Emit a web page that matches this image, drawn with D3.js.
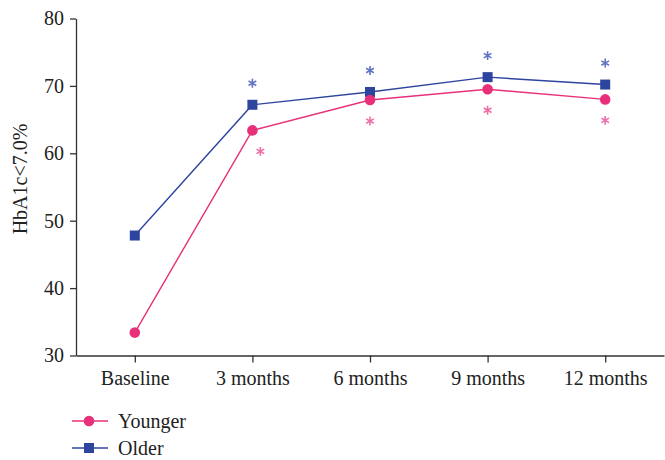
<!DOCTYPE html>
<html>
<head>
<meta charset="utf-8">
<script src="https://cdn.jsdelivr.net/npm/d3@7"></script>
<style>
  body { margin: 0; background: #fff; }
  text { font-family: "Liberation Serif", serif; fill: #222; }
</style>
</head>
<body>
<svg id="canvas"></svg>
<script>
let categories = ["Baseline", "3 months", "6 months", "9 months", "12 months"]
let younger = [33.4, 63.4, 67.9, 69.5, 68.0]
let older = [47.8, 67.2, 69.1, 71.3, 70.2]
let youngerSig = [false, true, true, true, true]
let olderSig = [false, true, true, true, true]
let yTicks = [30, 40, 50, 60, 70, 80]

let width = 665
let height = 460
let plotLeft = 76, plotRight = 664, plotTop = 18.5, plotBottom = 355.5

let pink = "#e8307a"
let blue = "#2e45a0"
let pinkStar = "#ee6fa6"
let blueStar = "#6275c4"

let svg = d3.select("#canvas")
svg.attr("width", width)
svg.attr("height", height)

let xScale = d3.scalePoint()
    .domain(categories)
    .range([plotLeft, plotRight])
    .padding(0.5)

let yScale = d3.scaleLinear()
    .domain([30, 80])
    .range([plotBottom, plotTop])

// axes
let xAxis = d3.axisBottom(xScale).tickSize(7).tickPadding(8).tickSizeOuter(0)
svg.append("g")
    .attr("transform", "translate(0," + plotBottom + ")")
    .call(xAxis)

let yAxis = d3.axisLeft(yScale).tickValues(yTicks).tickSize(6).tickPadding(6).tickSizeOuter(0)
svg.append("g")
    .attr("transform", "translate(" + plotLeft + ",0)")
    .call(yAxis)

svg.selectAll(".domain, .tick line").attr("stroke", "#333").attr("stroke-width", 1.3)
svg.selectAll(".tick text").attr("font-size", 20).attr("font-family", "Liberation Serif").attr("fill", "#222")

svg.append("text")
    .attr("transform", "translate(27,179) rotate(-90)")
    .attr("text-anchor", "middle")
    .attr("font-size", 20)
    .text("HbA1c<7.0%")

let line = d3.line()
    .x((d, i) => xScale(categories[i]))
    .y(d => yScale(d))

svg.append("path")
    .datum(older)
    .attr("fill", "none")
    .attr("stroke", blue)
    .attr("stroke-width", 1.4)
    .attr("d", line)

svg.append("path")
    .datum(younger)
    .attr("fill", "none")
    .attr("stroke", pink)
    .attr("stroke-width", 1.4)
    .attr("d", line)

svg.selectAll(".sq")
    .data(older)
    .enter()
    .append("rect")
    .attr("x", (d, i) => xScale(categories[i]) - 5)
    .attr("y", d => yScale(d) - 5)
    .attr("width", 10)
    .attr("height", 10)
    .attr("fill", blue)

svg.selectAll(".dot")
    .data(younger)
    .enter()
    .append("circle")
    .attr("cx", (d, i) => xScale(categories[i]))
    .attr("cy", d => yScale(d))
    .attr("r", 5.3)
    .attr("fill", pink)

// significance asterisks
let star = d3.symbol().type(d3.symbolAsterisk).size(55)

svg.selectAll(".ostar")
    .data(older.map((v, i) => ({v, i})).filter(d => olderSig[d.i]))
    .enter()
    .append("path")
    .attr("d", star)
    .attr("transform", d => "translate(" + xScale(categories[d.i]) + "," + (yScale(d.v) - 21.5) + ")")
    .attr("stroke", blueStar)
    .attr("stroke-width", 1.6)
    .attr("fill", "none")

svg.selectAll(".ystar")
    .data(younger.map((v, i) => ({v, i})).filter(d => youngerSig[d.i]))
    .enter()
    .append("path")
    .attr("d", star)
    .attr("transform", d => "translate(" + (xScale(categories[d.i]) + (d.i == 1 ? 8 : 0)) + "," + (yScale(d.v) + 21) + ")")
    .attr("stroke", pinkStar)
    .attr("stroke-width", 1.6)
    .attr("fill", "none")

// legend
let legend = svg.append("g").attr("transform", "translate(72,421)")
legend.append("line").attr("x1", 0).attr("x2", 36).attr("y1", 0).attr("y2", 0).attr("stroke", pink).attr("stroke-width", 1.4)
legend.append("circle").attr("cx", 17).attr("cy", 0).attr("r", 5.3).attr("fill", pink)
legend.append("text").attr("x", 46).attr("y", 0).attr("dy", "0.33em").attr("font-size", 20).text("Younger")

let legend2 = svg.append("g").attr("transform", "translate(72,448)")
legend2.append("line").attr("x1", 0).attr("x2", 36).attr("y1", 0).attr("y2", 0).attr("stroke", blue).attr("stroke-width", 1.4)
legend2.append("rect").attr("x", 12).attr("y", -5).attr("width", 10).attr("height", 10).attr("fill", blue)
legend2.append("text").attr("x", 46).attr("y", 0).attr("dy", "0.33em").attr("font-size", 20).text("Older")
</script>
</body>
</html>
